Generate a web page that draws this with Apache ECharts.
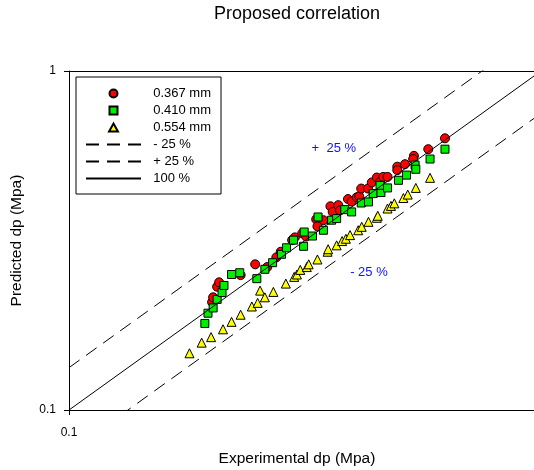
<!DOCTYPE html>
<html>
<head>
<meta charset="utf-8">
<script src="https://cdn.jsdelivr.net/npm/echarts@6/dist/echarts.min.js"></script>
<style>
  html, body { margin: 0; padding: 0; background: #fff; }
  #chart { width: 534px; height: 470px; }
</style>
</head>
<body>
<div id="chart"></div>
<script>
// experimental vs predicted pressure drop (MPa), one pair of arrays per tube size
const exp367 = [0.201, 0.202, 0.206, 0.208, 0.231, 0.248, 0.263, 0.275, 0.281, 0.297, 0.301, 0.312, 0.318, 0.334, 0.346, 0.336, 0.358, 0.362, 0.372, 0.375, 0.390, 0.397, 0.407, 0.412, 0.416, 0.430, 0.438, 0.449, 0.456, 0.463, 0.473, 0.496, 0.496, 0.515, 0.538, 0.536, 0.577, 0.626];
const pred367 = [0.208, 0.215, 0.231, 0.238, 0.250, 0.269, 0.264, 0.282, 0.293, 0.317, 0.323, 0.332, 0.325, 0.365, 0.363, 0.348, 0.399, 0.384, 0.402, 0.388, 0.419, 0.412, 0.424, 0.427, 0.450, 0.450, 0.469, 0.485, 0.471, 0.487, 0.487, 0.522, 0.510, 0.531, 0.562, 0.550, 0.588, 0.633];

const exp410 = [0.194, 0.197, 0.202, 0.206, 0.211, 0.213, 0.221, 0.230, 0.250, 0.260, 0.270, 0.282, 0.289, 0.299, 0.314, 0.315, 0.328, 0.337, 0.346, 0.360, 0.369, 0.384, 0.397, 0.416, 0.431, 0.441, 0.458, 0.456, 0.473, 0.499, 0.519, 0.541, 0.543, 0.582, 0.626];
const pred410 = [0.180, 0.193, 0.200, 0.212, 0.222, 0.233, 0.251, 0.254, 0.244, 0.260, 0.272, 0.288, 0.301, 0.317, 0.304, 0.335, 0.326, 0.371, 0.339, 0.363, 0.367, 0.390, 0.384, 0.408, 0.411, 0.435, 0.438, 0.460, 0.452, 0.476, 0.493, 0.528, 0.513, 0.550, 0.588];

const exp554 = [0.180, 0.191, 0.200, 0.212, 0.221, 0.231, 0.244, 0.251, 0.254, 0.260, 0.271, 0.288, 0.300, 0.304, 0.309, 0.319, 0.322, 0.336, 0.353, 0.354, 0.369, 0.379, 0.386, 0.394, 0.410, 0.417, 0.431, 0.449, 0.451, 0.473, 0.481, 0.489, 0.511, 0.522, 0.543, 0.582];
const pred554 = [0.147, 0.158, 0.164, 0.173, 0.182, 0.191, 0.202, 0.207, 0.225, 0.215, 0.223, 0.236, 0.247, 0.251, 0.259, 0.264, 0.269, 0.278, 0.293, 0.298, 0.306, 0.315, 0.320, 0.328, 0.339, 0.347, 0.359, 0.369, 0.374, 0.393, 0.400, 0.407, 0.422, 0.432, 0.452, 0.484];

// reference lines y = r * x
const refX = [0.1, 1];
const ratioMinus = 0.75;
const ratioPlus = 1 / 0.75;
const ratioExact = 1;

// band annotations [x, y, text]
const notes = [[0.364, 0.592, '+  25 %'], [0.432, 0.255, '- 25 %']];

const font = '"Liberation Sans", Arial, sans-serif';
const pairs = (xs, ys) => xs.map((x, i) => [x, ys[i]]);
const refLine = r => refX.map(x => [x, x * r]);

const chart = echarts.init(document.getElementById('chart'));

const scatter = (name, xs, ys, symbol, size, color) => ({
  name: name,
  type: 'scatter',
  data: pairs(xs, ys),
  symbol: symbol,
  symbolSize: size,
  itemStyle: { color: color, borderColor: '#000', borderWidth: 1, opacity: 1 },
  emphasis: { disabled: true }
});

const refSeries = (name, r, dashed) => ({
  name: name,
  type: 'line',
  data: refLine(r),
  showSymbol: false,
  symbol: 'none',
  itemStyle: { color: '#000' },
  lineStyle: { color: '#000', width: 1, type: dashed ? [13, 8] : 'solid' },
  emphasis: { disabled: true }
});

// legend rows: path icons keep their aspect (built-in rect/triangle would stretch to 55px),
// line rows hide the centre dot
const squareIcon = 'path://M0,0L10,0L10,10L0,10Z';
const triangleIcon = 'path://M5,0L10,9L0,9Z';
const markerItem = (name, icon) => ({ name: name, icon: icon, symbolKeepAspect: true });
const lineItem = name => ({ name: name, itemStyle: { opacity: 0 } });

const option = {
  animation: false,
  textStyle: { fontFamily: font },
  grid: { left: 69, top: 71, width: 472, height: 339, outerBoundsMode: 'none', containLabel: false },
  graphic: [{
    type: 'text',
    x: 297, y: 14,
    style: { text: 'Proposed correlation', font: '18px ' + font, fill: '#000', align: 'center', verticalAlign: 'middle' }
  }],
  legend: {
    orient: 'vertical',
    left: 76, top: 77,
    padding: [10, 10, 9, 9],
    itemWidth: 55, itemHeight: 8, itemGap: 4,
    symbolKeepAspect: true,
    borderColor: '#000', borderWidth: 1, borderRadius: 0,
    backgroundColor: '#fff',
    textStyle: { fontSize: 13, color: '#000', fontFamily: font },
    formatter: n => '  ' + n,
    data: [
      markerItem('0.367 mm', 'circle'), markerItem('0.410 mm', squareIcon), markerItem('0.554 mm', triangleIcon),
      lineItem('- 25 %'), lineItem('+ 25 %'), lineItem('100 %')
    ]
  },
  xAxis: [{
    type: 'log', logBase: 10, min: 0.1, max: 1,
    name: 'Experimental dp (Mpa)', nameLocation: 'middle', nameGap: 41,
    nameTextStyle: { fontSize: 15.5, color: '#000', padding: [0, 16, 0, 0] },
    axisLine: { lineStyle: { color: '#000' } },
    axisTick: { length: 5, lineStyle: { color: '#000' } },
    axisLabel: { margin: 17, fontSize: 12, color: '#000' },
    splitLine: { show: false }, minorTick: { show: false }
  }, {
    type: 'log', logBase: 10, min: 0.1, max: 1, position: 'top',
    axisLine: { show: true, lineStyle: { color: '#000' } },
    axisTick: { show: false }, axisLabel: { show: false }, splitLine: { show: false }
  }],
  yAxis: {
    type: 'log', logBase: 10, min: 0.1, max: 1,
    name: 'Predicted dp (Mpa)', nameLocation: 'middle', nameGap: 44, nameRotate: 90,
    nameTextStyle: { fontSize: 15.5, color: '#000' },
    axisLine: { lineStyle: { color: '#000' } },
    axisTick: { length: 5, lineStyle: { color: '#000' } },
    axisLabel: { margin: 13, fontSize: 12, color: '#000' },
    splitLine: { show: false }, minorTick: { show: false }
  },
  series: [
    refSeries('- 25 %', ratioMinus, true),
    refSeries('+ 25 %', ratioPlus, true),
    refSeries('100 %', ratioExact, false),
    scatter('0.367 mm', exp367, pred367, 'circle', 9, '#ff0000'),
    scatter('0.410 mm', exp410, pred410, 'rect', 8, '#00ee00'),
    scatter('0.554 mm', exp554, pred554, 'triangle', 9, '#ffff00'),
    {
      name: 'notes',
      type: 'scatter',
      data: notes,
      symbolSize: 0,
      itemStyle: { color: 'rgba(0,0,0,0)' },
      silent: true,
      label: {
        show: true, position: 'inside', opacity: 1,
        formatter: p => p.value[2],
        fontSize: 13, color: '#1010ff', fontFamily: font
      }
    }
  ]
};

chart.setOption(option);
</script>
</body>
</html>
